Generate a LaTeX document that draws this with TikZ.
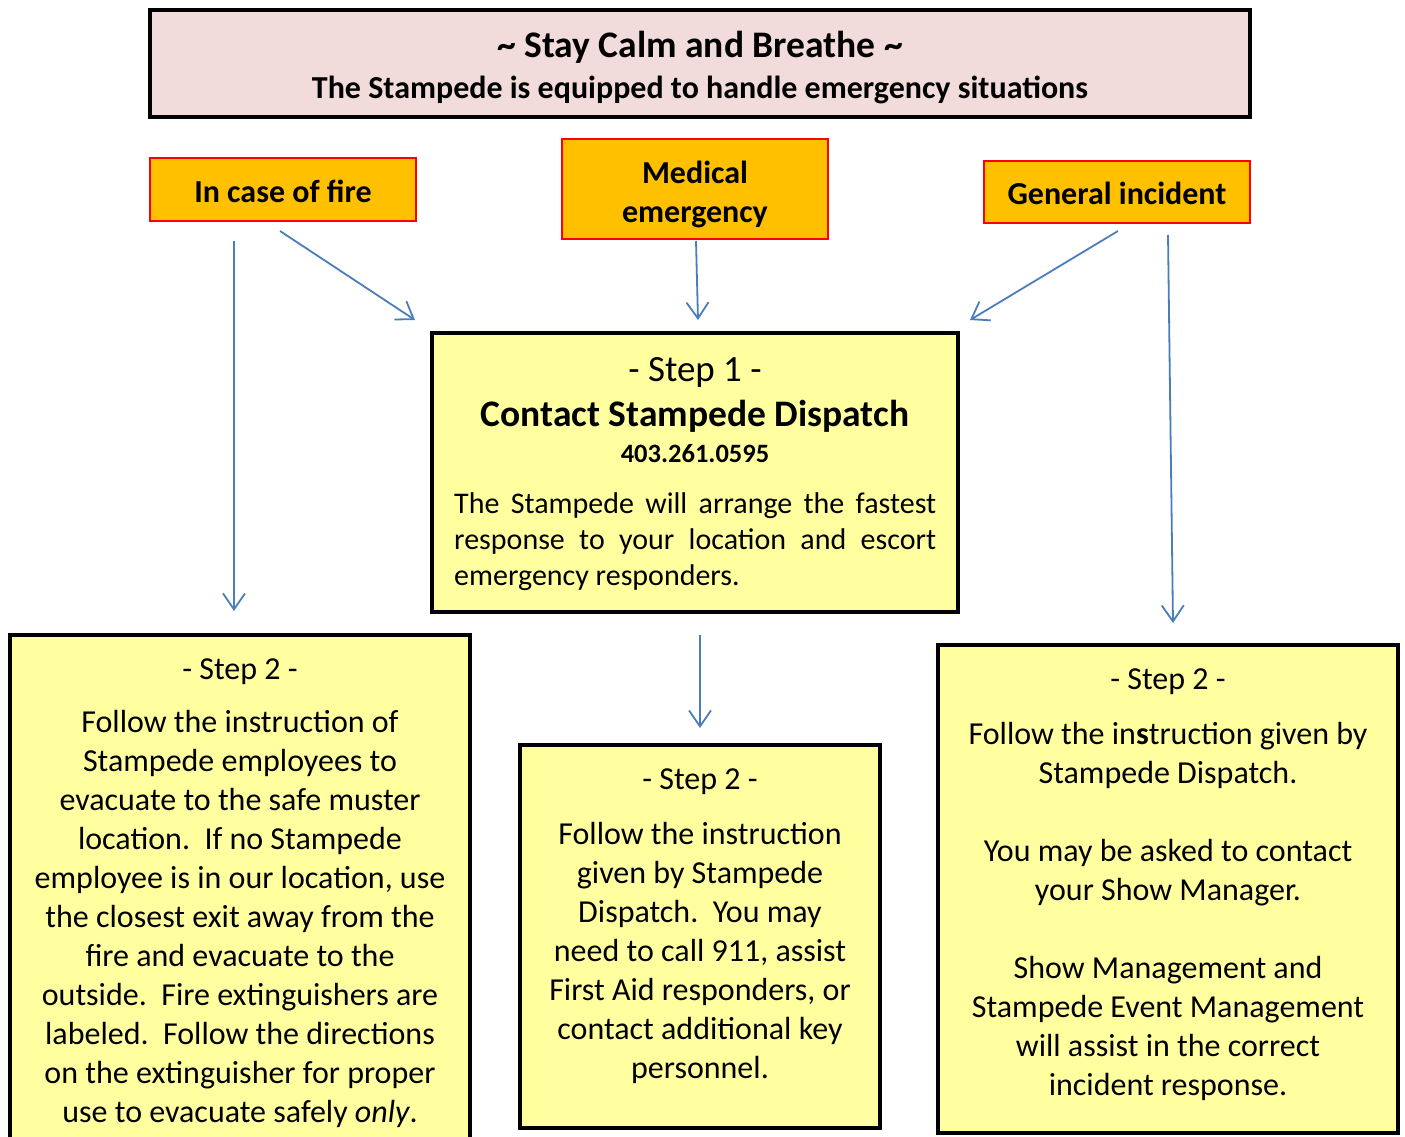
\documentclass[tikz,border=0pt]{standalone}
\usepackage{fontspec}
\setmainfont{Carlito}
\usetikzlibrary{arrows.meta,calc}
\definecolor{pinkbg}{HTML}{F2DCDB}
\definecolor{orangebg}{HTML}{FFC000}
\definecolor{yellowbg}{HTML}{FFFF9F}
\definecolor{arrowblue}{HTML}{4A7EBB}
\begin{document}
\begin{tikzpicture}[x=1pt,y=-1pt,
  boxbase/.style={anchor=north west,inner sep=0pt,outer sep=0pt},
  ybox/.style={boxbase,draw=black,line width=3.5pt,fill=yellowbg},
  obox/.style={boxbase,draw=red,line width=2.5pt,fill=orangebg},
  pbox/.style={boxbase,draw=black,line width=4pt,fill=pinkbg},
  txt/.style={anchor=base,align=center,inner sep=0pt},
  conn/.style={draw=arrowblue,line width=1.8pt,-{Straight Barb[length=16pt,width=22pt,line width=1.8pt]}}]
\clip (0,0) rectangle (1405,1137);
\fill[white] (0,0) rectangle (1405,1137);
% boxes
\node[pbox,minimum width=1100pt,minimum height=107pt] (top) at (150,10) {};
\node[obox,minimum width=266pt,minimum height=63pt] (fire) at (150,158) {};
\node[obox,minimum width=266pt,minimum height=100pt] (med) at (562,139) {};
\node[obox,minimum width=266pt,minimum height=62pt] (gen) at (984,161) {};
\node[ybox,minimum width=526pt,minimum height=279pt] (s1) at (432,333) {};
\node[ybox,minimum width=460pt,minimum height=520pt] (s2a) at (10,635) {};
\node[ybox,minimum width=360pt,minimum height=383pt] (s2b) at (520,745) {};
\node[ybox,minimum width=460pt,minimum height=488pt] (s2c) at (938,645) {};
% texts (for multi-line nodes, base = last line)
\node[txt,font=\fontsize{37.5}{40}\selectfont\bfseries] (toptitle) at (700,58) {\textasciitilde{} Stay Calm and Breathe \textasciitilde};
\node[txt,font=\fontsize{32}{35}\selectfont\bfseries] (topsub) at (700,99) {The Stampede is equipped to handle emergency situations};
\node[txt,font=\fontsize{32}{35}\selectfont\bfseries] (firet) at (283,202) {In case of fire};
\node[txt,font=\fontsize{32}{39}\selectfont\bfseries] (medt) at (695,222) {Medical\\emergency};
\node[txt,font=\fontsize{32}{35}\selectfont\bfseries] (gent) at (1117,204) {General incident};
\node[txt,font=\fontsize{37}{40}\selectfont] (s1head) at (695,381) {- Step 1 -};
\node[txt,font=\fontsize{37.5}{40}\selectfont\bfseries] (s1title) at (695,426) {Contact Stampede Dispatch};
\node[txt,font=\fontsize{26.5}{28}\selectfont\bfseries] (s1num) at (695,462) {403.261.0595};
\node[anchor=base west,inner sep=0pt,text width=482pt,align=justify,font=\fontsize{30}{36}\selectfont] (s1body) at (454,513) {The Stampede will arrange the fastest\linebreak response to your location and escort\linebreak emergency responders.};
\node[txt,font=\fontsize{32}{39}\selectfont] (s2at) at (240,1122) {- Step 2 -\\[14pt]
Follow the instruction of\\Stampede employees to\\evacuate to the safe muster\\location.\ \ If no Stampede\\employee is in our location, use\\the closest exit away from the\\fire and evacuate to the\\outside.\ \ Fire extinguishers are\\labeled.\ \ Follow the directions\\on the extinguisher for proper\\use to evacuate safely \textit{only}.};
\node[txt,font=\fontsize{32}{39}\selectfont] (s2bt) at (700,1078) {- Step 2 -\\[16pt]
Follow the instruction\\given by Stampede\\Dispatch.\ \ You may\\need to call 911, assist\\First Aid responders, or\\contact additional key\\personnel.};
\node[txt,font=\fontsize{32}{39}\selectfont] (s2ct) at (1168,1095) {- Step 2 -\\[16pt]
Follow the in\textbf{s}truction given by\\Stampede Dispatch.\\[39pt]
You may be asked to contact\\your Show Manager.\\[39pt]
Show Management and\\Stampede Event Management\\will assist in the correct\\incident response.};
% connectors
\draw[conn] ([shift={(84,20)}]fire.south west) -- ([shift={(224,-24)}]s2a.north west);
\draw[conn] ([shift={(130,10)}]fire.south west) -- ([shift={(-17,-13)}]s1.north west);
\draw[conn] ([shift={(1,2)}]med.south) -- ([shift={(3,-13)}]s1.north);
\draw[conn] ([shift={(134,8)}]gen.south west) -- ([shift={(12,-13)}]s1.north east);
\draw[conn] ([shift={(184,12)}]gen.south west) -- ([shift={(235,-22)}]s2c.north west);
\draw[conn] ([shift={(5,23)}]s1.south) -- ([shift={(0,-17)}]s2b.north);
\end{tikzpicture}
\end{document}
